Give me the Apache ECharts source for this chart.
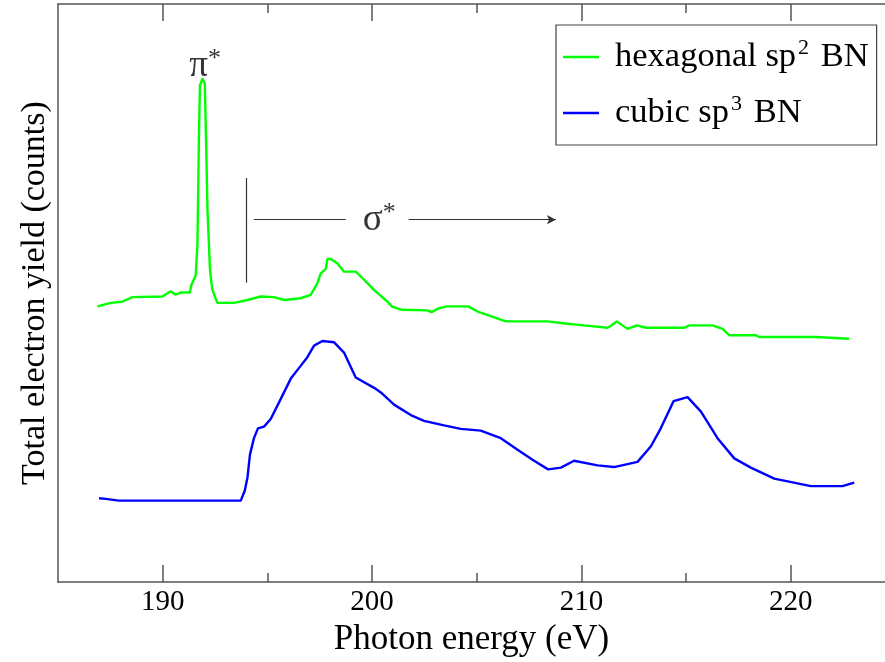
<!DOCTYPE html>
<html>
<head>
<meta charset="utf-8">
<script src="https://cdn.jsdelivr.net/npm/echarts@6/dist/echarts.min.js"></script>
<style>
html,body{margin:0;padding:0;background:#fff;}
#chart{width:885px;height:662px;}
</style>
</head>
<body>
<div id="chart"></div>
<script>
// hexagonal sp2 BN (green)
var hexEnergy = [186.88,187.52,188.07,188.55,189.99,190.38,190.62,190.86,191.30,191.37,191.58,191.66,191.73,191.78,191.90,192.01,192.07,192.14,192.26,192.37,192.61,193.41,194.05,194.68,195.32,195.80,196.59,197.07,197.39,197.55,197.79,197.87,198.03,198.35,198.66,199.22,199.62,200.10,200.42,200.74,200.97,201.45,202.65,202.84,203.20,203.60,204.59,205.04,205.67,206.39,208.38,209.34,210.13,211.25,211.40,211.69,212.20,212.65,213.08,214.91,215.15,216.26,216.74,217.06,218.33,218.49,221.20,221.28,222.79];
var hexYield = [47.7,48.3,48.5,49.3,49.4,50.3,49.7,50.1,50.1,51.4,53.1,58.5,76.8,85.9,87.1,86.2,76.8,64.3,54.0,50.6,48.3,48.3,48.8,49.4,49.3,48.8,49.1,49.7,51.7,53.4,54.2,55.9,55.9,55.1,53.7,53.7,52.3,50.5,49.5,48.5,47.6,47.1,47.0,46.7,47.4,47.7,47.7,46.8,46.0,45.1,45.1,44.7,44.4,44.0,44.3,45.1,43.8,44.4,44.0,44.0,44.4,44.4,43.8,42.7,42.7,42.4,42.4,42.1,42.1];
// cubic sp3 BN (blue)
var cubicEnergy = [186.96,187.28,187.91,193.73,193.92,194.05,194.17,194.36,194.55,194.84,195.16,195.64,196.12,196.59,196.91,197.23,197.63,198.18,198.66,199.22,200.10,200.42,201.05,201.85,202.48,203.44,204.24,205.19,206.15,206.95,207.74,208.41,209.02,209.65,210.77,211.56,212.68,213.32,213.79,214.40,215.07,215.71,216.50,217.30,218.09,219.21,220.96,222.47,223.03];
var cubicYield = [14.5,14.4,14.1,14.1,15.8,18.1,22.1,24.9,26.6,26.9,28.2,31.7,35.2,37.4,38.9,40.9,41.7,41.5,39.7,35.4,33.6,32.8,30.7,28.9,27.9,27.1,26.5,26.2,24.9,22.9,21.0,19.5,19.8,21.0,20.2,19.9,20.8,23.5,26.6,31.3,32.0,29.5,24.9,21.4,19.8,17.9,16.6,16.6,17.2];

var majorTicks = [190, 200, 210, 220];
var minorTicks = [195, 205, 215];

var piLabelPos = [192.03, 89.2];
var sigmaLabelPos = [200.34, 62.6];
var sigmaBar = [[193.97, 69.9], [193.97, 51.8]];
var sigmaLeft = [[194.35, 62.7], [198.74, 62.7]];
var sigmaArrow = [[201.75, 62.7], [208.78, 62.7]];

function pairs(xs, ys) {
    var out = [];
    for (var i = 0; i < xs.length; i++) {
        out.push([xs[i], ys[i]]);
    }
    return out;
}

var font = 'Liberation Serif';
var frameColor = '#555';

function xAx(pos, ticks, len, showLine, showLabel) {
    return {
        type: 'value',
        position: pos,
        min: 185,
        max: 224.5,
        axisLine: {show: showLine, onZero: false, lineStyle: {color: frameColor, width: 1.5}},
        axisTick: {show: true, inside: true, length: len, customValues: ticks, lineStyle: {color: frameColor, width: 1.5}},
        axisLabel: {show: showLabel, customValues: ticks, fontFamily: font, fontSize: 29, color: '#000', margin: 6},
        splitLine: {show: false},
        name: showLabel ? 'Photon energy (eV)' : '',
        nameLocation: 'middle',
        nameGap: 33,
        nameTextStyle: {fontFamily: font, fontSize: 35, color: '#000', verticalAlign: 'top'}
    };
}

var chart = echarts.init(document.getElementById('chart'));
var option = {
    animation: false,
    grid: {left: 58, right: 0, top: 4, bottom: 73},
    legend: {
        orient: 'vertical',
        left: 556,
        top: 25,
        padding: [12, 8, 12, 7],
        itemGap: 16,
        itemWidth: 36,
        itemHeight: 2.5,
        icon: 'rect',
        borderColor: '#444',
        borderWidth: 1.2,
        data: ['hex', 'cubic'],
        formatter: function (name) {
            return name === 'hex' ? 'hexagonal sp{s|2} BN' : 'cubic sp{s|3} BN';
        },
        textStyle: {
            fontFamily: font, fontSize: 34.5, color: '#000', lineHeight: 40, padding: [0, 0, 0, 11],
            rich: {s: {fontFamily: font, fontSize: 22, color: '#000', verticalAlign: 'top', lineHeight: 18, padding: [0, 3, 0, 2]}}
        }
    },
    xAxis: [
        xAx('bottom', majorTicks, 17, true, true),
        xAx('bottom', minorTicks, 9, false, false),
        xAx('top', majorTicks, 17, true, false),
        xAx('top', minorTicks, 9, false, false)
    ],
    yAxis: {
        type: 'value',
        min: 0,
        max: 100,
        axisLine: {show: true, lineStyle: {color: frameColor, width: 1.5}},
        axisTick: {show: false},
        axisLabel: {show: false},
        splitLine: {show: false},
        name: 'Total electron yield (counts)',
        nameLocation: 'middle',
        nameGap: 6,
        nameTextStyle: {fontFamily: font, fontSize: 34, color: '#000'}
    },
    series: [
        {
            name: 'hex',
            type: 'line',
            data: pairs(hexEnergy, hexYield),
            showSymbol: false,
            symbol: 'none',
            lineStyle: {color: '#00ff00', width: 2.4},
            itemStyle: {color: '#00ff00'}
        },
        {
            name: 'cubic',
            type: 'line',
            data: pairs(cubicEnergy, cubicYield),
            showSymbol: false,
            symbol: 'none',
            lineStyle: {color: '#0000ff', width: 2.4},
            itemStyle: {color: '#0000ff'}
        },
        {
            // annotations π* / σ*
            name: 'notes',
            type: 'scatter',
            symbolSize: 0,
            silent: true,
            data: [
                {value: piLabelPos, label: {formatter: 'π{s|*}'}},
                {value: sigmaLabelPos, label: {formatter: 'σ{s|*}'}}
            ],
            label: {
                show: true,
                position: 'inside',
                fontFamily: font,
                fontSize: 37,
                lineHeight: 40,
                color: '#000',
                rich: {s: {fontFamily: font, fontSize: 26, lineHeight: 24, color: '#000', verticalAlign: 'top'}}
            },
            markLine: {
                silent: true,
                symbol: ['none', 'none'],
                label: {show: false},
                lineStyle: {color: '#333', width: 1.2, type: 'solid'},
                data: [
                    [{coord: sigmaBar[0]}, {coord: sigmaBar[1]}],
                    [{coord: sigmaLeft[0]}, {coord: sigmaLeft[1]}],
                    [{coord: sigmaArrow[0]}, {coord: sigmaArrow[1], symbol: 'arrow', symbolSize: [7, 9]}]
                ]
            }
        }
    ]
};
chart.setOption(option);
</script>
</body>
</html>
